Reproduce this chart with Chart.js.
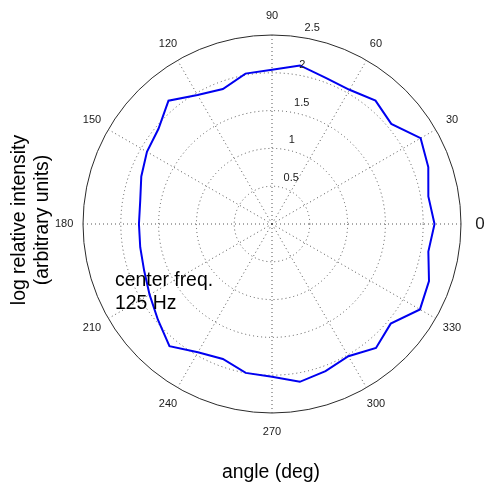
<!DOCTYPE html>
<html>
<head>
<meta charset="utf-8">
<script src="https://cdn.jsdelivr.net/npm/chart.js@4.4.1/dist/chart.umd.min.js"></script>
<style>
  html, body { margin: 0; padding: 0; background: #ffffff; }
  canvas { display: block; }
</style>
</head>
<body>
<canvas id="polar" width="486" height="489"></canvas>
<script>
// Direction of each sample, degrees counter-clockwise from the 0 axis
const angleDeg = [0, 10, 20, 30, 40, 50, 60, 70, 80, 90, 100, 110,
                  120, 130, 140, 150, 160, 170, 180, 190, 200, 210, 220, 230,
                  240, 250, 260, 270, 280, 290, 300, 310, 320, 330, 340, 350];
// Log relative intensity for each direction
const logIntensity = [2.15, 2.10, 2.20, 2.27, 2.06, 2.13, 2.05, 2.06, 2.13, 2.04, 2.02, 1.90,
                      1.97, 2.13, 1.96, 1.91, 1.84, 1.77, 1.76, 1.77, 1.80, 1.87, 1.97, 2.11,
                      1.96, 1.90, 2.00, 2.02, 2.12, 2.07, 2.02, 2.14, 2.05, 2.26, 2.21, 2.10];
// Radial rings and spoke labels
const radialTicks = [0.5, 1, 1.5, 2, 2.5];
const spokeLabels = [0, 30, 60, 90, 120, 150, 180, 210, 240, 270, 300, 330];
const xTitle = 'angle (deg)';
const yTitle = ['log relative intensity', '(arbitrary units)'];
const note = ['center freq.', '125 Hz'];

const FONT = 'Arial, "Liberation Sans", sans-serif';
const rMax = radialTicks[radialTicks.length - 1];

// The radar scale runs clockwise from its start angle, so walk the
// directions backwards to keep angles increasing counter-clockwise.
const order = angleDeg.map((_, i) => (360 - 10 * i) % 360);
const series = order.map(a => logIntensity[angleDeg.indexOf(a)]);

const textPlugin = {
  id: 'polarText',
  afterDraw(chart) {
    const ctx = chart.ctx;
    const r = chart.scales.r;
    ctx.save();
    ctx.fillStyle = '#1a1a1a';

    // spoke labels at 1.1 x the outer ring
    const dLabel = r.getDistanceFromCenterForValue(rMax * 1.1);
    ctx.textAlign = 'center';
    ctx.textBaseline = 'middle';
    spokeLabels.forEach(deg => {
      const p = r.getPointPosition(order.indexOf(deg), dLabel);
      ctx.font = (deg === 0 ? '17px ' : '11px ') + FONT;
      ctx.fillText(String(deg), p.x, p.y);
    });

    // ring values along the 82 degree direction
    const a = 82 * Math.PI / 180;
    ctx.font = '11px ' + FONT;
    ctx.textAlign = 'left';
    ctx.textBaseline = 'alphabetic';
    radialTicks.forEach(v => {
      const d = r.getDistanceFromCenterForValue(v + 0.025);
      const x = r.xCenter + d * Math.cos(a);
      const y = r.yCenter - d * Math.sin(a);
      ctx.fillText(String(v), x + 6, y - 4);
    });

    // axis titles and annotation
    ctx.fillStyle = '#000000';
    ctx.font = '19.4px ' + FONT;
    ctx.textAlign = 'center';
    ctx.fillText(xTitle, 271, 478);

    ctx.save();
    ctx.translate(25, 220);
    ctx.rotate(-Math.PI / 2);
    ctx.fillText(yTitle[0], 0, 0);
    ctx.fillText(yTitle[1], 0, 23);
    ctx.restore();

    ctx.textAlign = 'left';
    ctx.fillText(note[0], 115, 286);
    ctx.fillText(note[1], 115, 309);
    ctx.restore();
  }
};

new Chart(document.getElementById('polar'), {
  type: 'radar',
  data: {
    labels: order.map(String),
    datasets: [{
      data: series,
      borderColor: 'rgb(0, 0, 240)',
      borderWidth: 2,
      fill: false,
      pointRadius: 0,
      pointHoverRadius: 0,
      tension: 0
    }]
  },
  options: {
    responsive: false,
    animation: false,
    layout: { padding: { left: 83, right: 25, top: 35, bottom: 76 } },
    plugins: { legend: { display: false }, tooltip: { enabled: false } },
    scales: {
      r: {
        startAngle: 90,
        min: 0,
        max: rMax,
        ticks: { display: false, stepSize: 0.5 },
        pointLabels: { display: false },
        grid: {
          circular: true,
          lineWidth: 1,
          color: c => (c.index === radialTicks.length ? '#2a2a2a' : '#555555')
        },
        border: {
          dash: c => (c.index === radialTicks.length ? [] : [1, 3])
        },
        angleLines: {
          color: '#555555',
          lineWidth: c => (order[c.index] % 30 === 0 ? 1 : 0),
          borderDash: [1, 3]
        }
      }
    }
  },
  plugins: [textPlugin]
});
</script>
</body>
</html>
